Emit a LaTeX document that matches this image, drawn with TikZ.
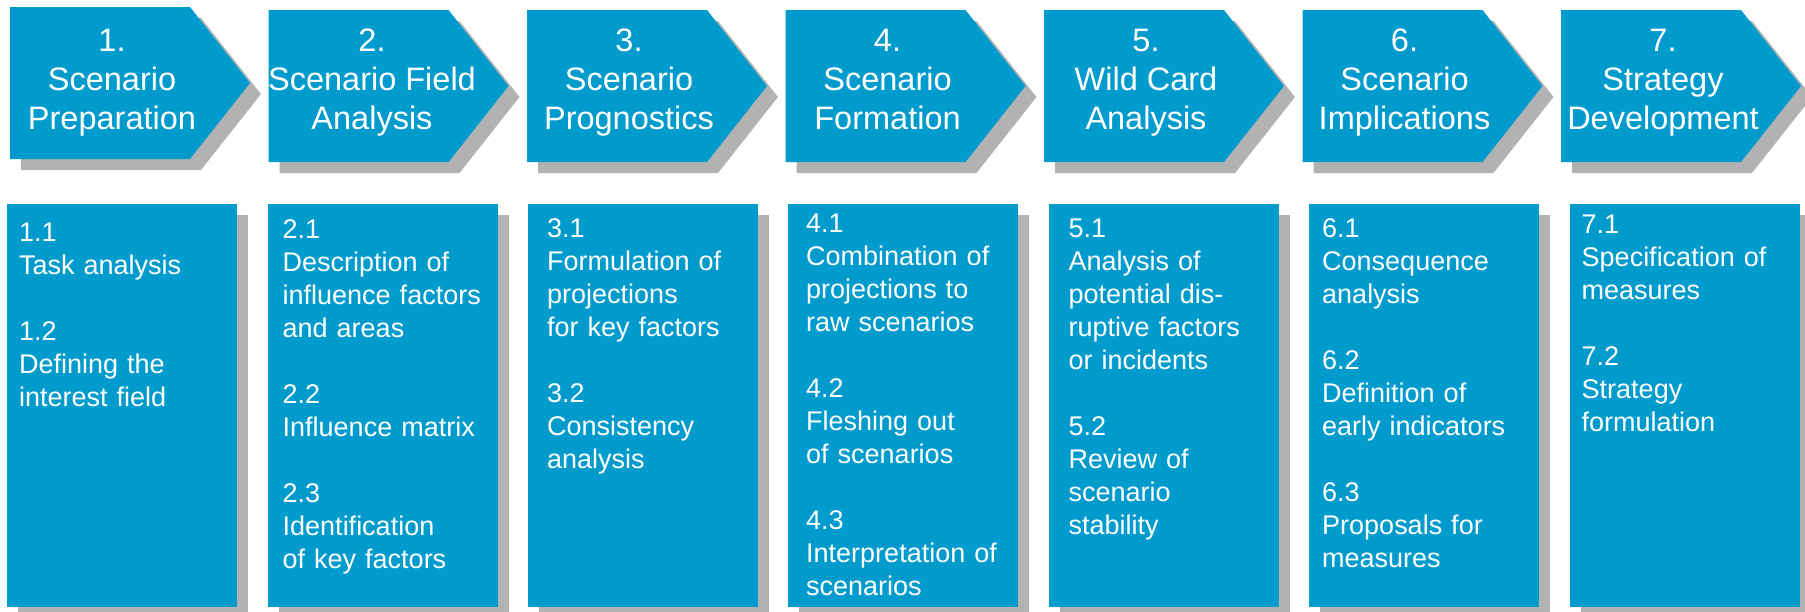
\documentclass[tikz,border=0pt]{standalone}
\usepackage{fontspec}
\setmainfont{Liberation Sans}
\usetikzlibrary{shadows}
\definecolor{stageblue}{RGB}{0,155,205}
\definecolor{shadowgray}{RGB}{178,178,178}

\begin{document}
\begin{tikzpicture}[x=1pt, y=-1pt,
        stage/.style={fill=stageblue, general shadow={fill=shadowgray, shadow xshift=11pt, shadow yshift=-11pt}},
        stagetext/.style={text=white, align=center, inner sep=0pt, font=\fontsize{32.5pt}{39pt}\selectfont},
        tasks/.style={rectangle, anchor=north west, fill=stageblue, general shadow={fill=shadowgray, shadow xshift=11pt, shadow yshift=-11pt},
            text=white, align=left, inner ysep=0pt, font=\fontsize{27pt}{33pt}\selectfont}
    ]
        \useasboundingbox (0,0) rectangle (1805,611);

        \path[stage] (10,7) -- (190,7) -- (250,83) -- (190,159) -- (10,159) -- cycle;
        \path[stage] (268.5,10) -- (448.5,10) -- (508.5,86) -- (448.5,162) -- (268.5,162) -- cycle;
        \path[stage] (527,10) -- (707,10) -- (767,86) -- (707,162) -- (527,162) -- cycle;
        \path[stage] (785.5,10) -- (965.5,10) -- (1025.5,86) -- (965.5,162) -- (785.5,162) -- cycle;
        \path[stage] (1044,10) -- (1224,10) -- (1284,86) -- (1224,162) -- (1044,162) -- cycle;
        \path[stage] (1302.5,10) -- (1482.5,10) -- (1542.5,86) -- (1482.5,162) -- (1302.5,162) -- cycle;
        \path[stage] (1561,10) -- (1741,10) -- (1801,86) -- (1741,162) -- (1561,162) -- cycle;

        \node[stagetext] (phase1) at (112,82.5) {1.\\Scenario\\Preparation};
        \node[stagetext] (phase2) at (372,82.5) {2.\\Scenario Field\\Analysis};
        \node[stagetext] (phase3) at (629,82.5) {3.\\Scenario\\Prognostics};
        \node[stagetext] (phase4) at (887.5,79.2) {4.\\Scenario\\Formation};
        \node[stagetext] (phase5) at (1146,82.5) {5.\\Wild Card\\Analysis};
        \node[stagetext] (phase6) at (1404.5,82.5) {6.\\Scenario\\Implications};
        \node[stagetext] (phase7) at (1663,82.5) {7.\\Strategy\\Development};

        \node[tasks, inner xsep=12pt, text width=206pt, text height=37pt, text depth=366pt] (tasks1) at (7,204)
            {1.1\\Task analysis\\[33pt]1.2\\Defining the\\interest field};
        \node[tasks, inner xsep=15pt, text width=200pt, text height=34pt, text depth=369pt] (tasks2) at (267.5,204)
            {2.1\\Description of\\influence factors\\and areas\\[33pt]2.2\\Influence matrix\\[33pt]2.3\\Identification\\of key factors};
        \node[tasks, inner xsep=19pt, text width=192pt, text height=33pt, text depth=370pt] (tasks3) at (528,204)
            {3.1\\Formulation of\\projections\\for key factors\\[33pt]3.2\\Consistency\\analysis};
        \node[tasks, inner xsep=18pt, text width=194pt, text height=28pt, text depth=375pt] (tasks4) at (788,204)
            {4.1\\Combination of\\projections to\\raw scenarios\\[33pt]4.2\\Fleshing out\\of scenarios\\[33pt]4.3\\Interpretation of\\scenarios};
        \node[tasks, inner xsep=20pt, text width=190pt, text height=33pt, text depth=370pt] (tasks5) at (1048.5,204)
            {5.1\\Analysis of\\potential dis-\\ruptive factors\\or incidents\\[33pt]5.2\\Review of\\scenario\\stability};
        \node[tasks, inner xsep=13pt, text width=204pt, text height=33pt, text depth=370pt] (tasks6) at (1309,204)
            {6.1\\Consequence\\analysis\\[33pt]6.2\\Definition of\\early indicators\\[33pt]6.3\\Proposals for\\measures};
        \node[tasks, inner xsep=12pt, text width=206pt, text height=29pt, text depth=374pt] (tasks7) at (1569.5,204)
            {7.1\\Specification of\\measures\\[33pt]7.2\\Strategy\\formulation};
    \end{tikzpicture}
\end{document}
